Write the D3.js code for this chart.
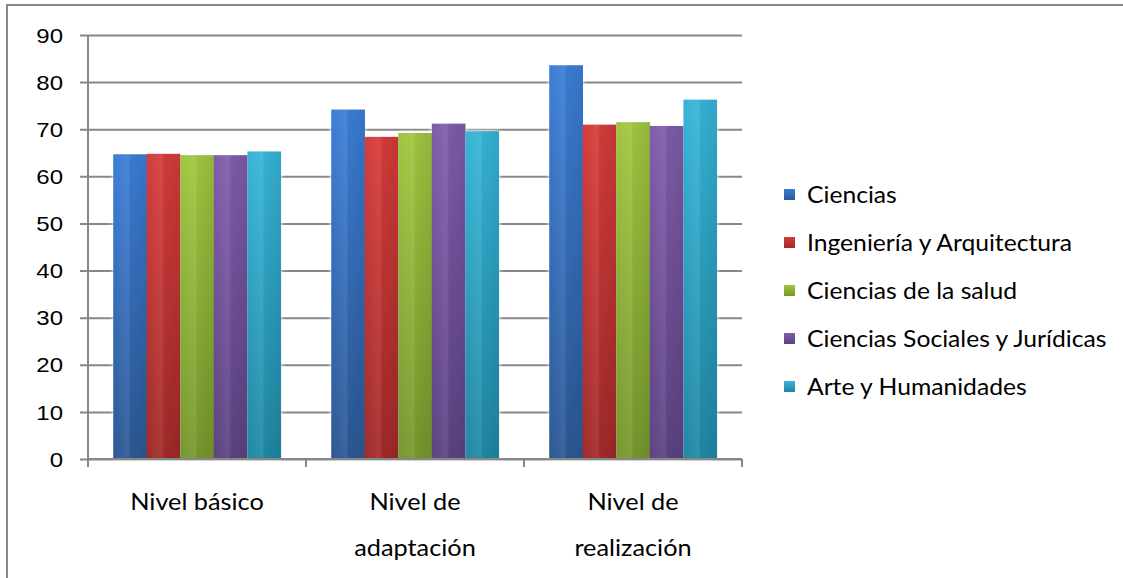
<!DOCTYPE html>
<html>
<head>
<meta charset="utf-8">
<script src="https://cdn.jsdelivr.net/npm/d3@7"></script>
<style>
html,body{margin:0;padding:0;background:#fff;}
svg{display:block;}
</style>
</head>
<body>
<svg id="chart" width="1123" height="578"></svg>
<script>
const categories = [["Nivel básico"], ["Nivel de", "adaptación"], ["Nivel de", "realización"]];
const seriesNames = ["Ciencias", "Ingeniería y Arquitectura", "Ciencias de la salud", "Ciencias Sociales y Jurídicas", "Arte y Humanidades"];
const ciencias = [64.7, 74.2, 83.6];
const ingenieria = [64.8, 68.4, 71.0];
const salud = [64.5, 69.2, 71.5];
const sociales = [64.5, 71.2, 70.7];
const arte = [65.3, 69.6, 76.3];
const yTicks = [0, 10, 20, 30, 40, 50, 60, 70, 80, 90];

const seriesValues = [ciencias, ingenieria, salud, sociales, arte];
const colors = [
  {top:"#3b7dd6", bot:"#2b5894"},
  {top:"#d53b3a", bot:"#a12a29"},
  {top:"#9fc63f", bot:"#76972d"},
  {top:"#7f5cab", bot:"#5c4282"},
  {top:"#36b4d7", bot:"#2087a4"}
];

const svg = d3.select("#chart");
const W = 1123, H = 578;
const plot = {left: 88, right: 742, top: 35, bottom: 459};

const defs = svg.append("defs");
colors.forEach((c, i) => {
  const g = defs.append("linearGradient").attr("id", "g" + i)
    .attr("x1", 0).attr("y1", 0).attr("x2", 0).attr("y2", 1);
  g.append("stop").attr("offset", "0%").attr("stop-color", c.top);
  g.append("stop").attr("offset", "100%").attr("stop-color", c.bot);
  const h = defs.append("linearGradient").attr("id", "h" + i)
    .attr("x1", 0).attr("y1", 0).attr("x2", 1).attr("y2", 0);
  h.append("stop").attr("offset", "0%").attr("stop-color", "#fff").attr("stop-opacity", 0.0);
  h.append("stop").attr("offset", "45%").attr("stop-color", "#fff").attr("stop-opacity", 0.08);
  h.append("stop").attr("offset", "55%").attr("stop-color", "#000").attr("stop-opacity", 0.03);
  h.append("stop").attr("offset", "100%").attr("stop-color", "#000").attr("stop-opacity", 0.08);
});
const glow = defs.append("filter").attr("id", "glow").attr("x", "-20%").attr("y", "-20%").attr("width", "140%").attr("height", "140%");
glow.append("feGaussianBlur").attr("in", "SourceAlpha").attr("stdDeviation", 2).attr("result", "b");
glow.append("feFlood").attr("flood-color", "#ffffff").attr("result", "f");
glow.append("feComposite").attr("in", "f").attr("in2", "b").attr("operator", "in").attr("result", "s");
const m = glow.append("feMerge");
m.append("feMergeNode").attr("in", "s");
m.append("feMergeNode").attr("in", "SourceGraphic");

// outer border
svg.append("path")
  .attr("d", `M7,${H} L7,5 L${W},5`)
  .attr("fill", "none").attr("stroke", "#888").attr("stroke-width", 2);

const y = d3.scaleLinear().domain([0, 90]).range([plot.bottom, plot.top]);
const x0 = d3.scaleBand().domain(d3.range(categories.length)).range([plot.left, plot.right]).padding(0);
const gapRatio = 1.5;
const barW = x0.bandwidth() / (seriesNames.length + gapRatio);
const x1 = d3.scaleBand().domain(d3.range(seriesNames.length))
  .range([0, barW * seriesNames.length]).padding(0);
const groupOffset = (x0.bandwidth() - barW * seriesNames.length) / 2;

// y axis + gridlines
const yAxis = d3.axisLeft(y).tickValues(yTicks).tickSize(8).tickPadding(17);
const gy = svg.append("g").attr("transform", `translate(${plot.left},0)`).call(yAxis);
gy.select(".domain").attr("stroke", "#878787").attr("stroke-width", 2)
  .attr("d", `M0,${plot.top}V${plot.bottom}`);
gy.selectAll(".tick line").attr("stroke", "#878787").attr("stroke-width", 2).attr("x1", -8).attr("x2", plot.right - plot.left);
gy.selectAll(".tick text")
  .attr("font-family", "'Liberation Sans', Arial, sans-serif")
  .attr("font-size", 20).attr("fill", "#000")
  .attr("dy", "0.36em")
  .attr("transform", "translate(-25,0) scale(1.2,1) translate(25,0)");

// bars
const groups = svg.append("g").selectAll("g.grp")
  .data(categories).join("g").attr("class", "grp")
  .attr("transform", (d, i) => `translate(${x0(i) + groupOffset},0)`)
  .attr("filter", "url(#glow)");

seriesValues.forEach((vals, si) => {
  groups.append("rect")
    .attr("x", x1(si))
    .attr("y", (d, ci) => y(vals[ci]))
    .attr("width", x1.bandwidth() + 0.3)
    .attr("height", (d, ci) => y(0) - y(vals[ci]))
    .attr("fill", `url(#g${si})`);
  groups.append("rect")
    .attr("x", x1(si))
    .attr("y", (d, ci) => y(vals[ci]))
    .attr("width", x1.bandwidth())
    .attr("height", (d, ci) => y(0) - y(vals[ci]))
    .attr("fill", `url(#h${si})`);
});

// x axis
const gx = svg.append("g").attr("transform", `translate(0,${plot.bottom})`);
gx.append("line").attr("x1", plot.left).attr("x2", plot.right).attr("y1", 0).attr("y2", 0)
  .attr("stroke", "#878787").attr("stroke-width", 2);
const boundaries = d3.range(categories.length + 1).map(i => i < categories.length ? x0(i) : x0(i - 1) + x0.bandwidth());
gx.selectAll("line.sep").data(boundaries).join("line").attr("class", "sep")
  .attr("x1", d => d).attr("x2", d => d).attr("y1", 0).attr("y2", 8)
  .attr("stroke", "#878787").attr("stroke-width", 2);

const labelFont = "Lato, 'Open Sans', sans-serif";
categories.forEach((lines, i) => {
  const cx = x0(i) + x0.bandwidth() / 2;
  const t = svg.append("text")
    .attr("font-family", labelFont).attr("font-size", 23).attr("fill", "#000")
    .attr("text-anchor", "middle")
    .attr("transform", `translate(${cx},0) scale(1.1,1)`);
  lines.forEach((ln, li) => {
    t.append("tspan").attr("x", 0).attr("y", 510 + li * 46).text(ln);
  });
});

// legend
const legend = svg.append("g");
seriesNames.forEach((name, i) => {
  const cy = 195 + i * 48;
  legend.append("rect").attr("x", 784).attr("y", cy - 6).attr("width", 11).attr("height", 11)
    .attr("fill", `url(#g${i})`);
  legend.append("text").attr("font-family", labelFont).attr("font-size", 23.5).attr("fill", "#000")
    .attr("transform", `translate(807,${cy}) scale(1.05,1)`)
    .attr("dy", "0.35em").text(name);
});
</script>
</body>
</html>
